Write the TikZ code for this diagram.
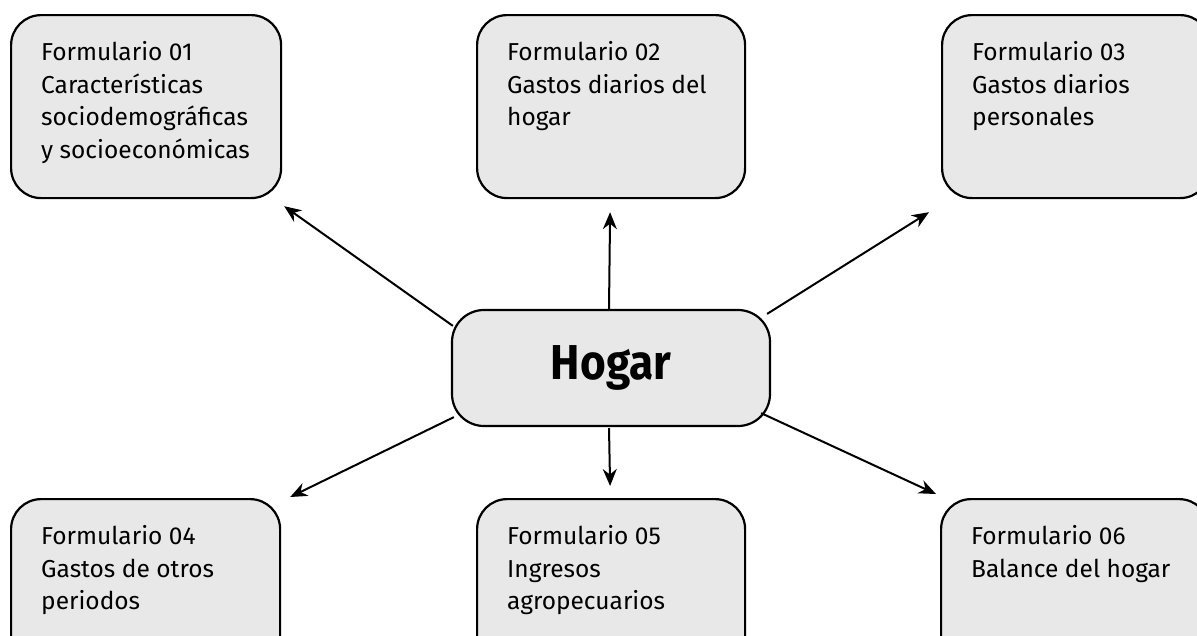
\documentclass[tikz,border=0pt]{standalone}
\usepackage{fontspec}
\setmainfont{Fira Sans}
\newfontfamily\hogarfont[FakeStretch=0.9]{Fira Sans}
\usetikzlibrary{calc,arrows.meta}
\tikzset{
  formbox/.style={draw=black, line width=2.2pt, fill=boxgray, rounded corners=30pt,
    minimum width=268pt, minimum height=183pt, inner sep=0pt, anchor=north west},
  hogarbox/.style={draw=black, line width=2.2pt, fill=boxgray, rounded corners=32pt,
    minimum width=318pt, minimum height=116pt, inner sep=0pt},
  formtext/.style={anchor=north west, inner sep=0pt, align=left,
    font=\fontsize{24.5}{32.7}\selectfont},
  conn/.style={line width=2pt, -{Stealth[length=17pt,width=14pt]}}
}
\definecolor{boxgray}{HTML}{E8E8E8}
\begin{document}
\begin{tikzpicture}[x=1pt,y=-1pt]
\useasboundingbox (0,0) rectangle (1197,635);
\clip (0,0) rectangle (1197,635);
\node[formbox, minimum width=270pt] (b1) at (10,14) {};
\node[formbox] (b2) at (476,14) {};
\node[formbox] (b3) at (941,14) {};
\node[formbox, minimum width=269pt] (b4) at (10,498) {};
\node[formbox] (b5) at (476,498) {};
\node[formbox] (b6) at (940,498) {};
\node[formtext] (t1) at ($(b1.north west)+(31,27)$) {Formulario 01\\Características\\sociodemográficas\\y socioeconómicas};
\node[formtext] (t2) at ($(b2.north west)+(31,27)$) {Formulario 02\\Gastos diarios del\\hogar};
\node[formtext] (t3) at ($(b3.north west)+(31,27)$) {Formulario 03\\Gastos diarios\\personales};
\node[formtext] (t4) at ($(b4.north west)+(31,27)$) {Formulario 04\\Gastos de otros\\periodos};
\node[formtext] (t5) at ($(b5.north west)+(31,27)$) {Formulario 05\\Ingresos\\agropecuarios};
\node[formtext] (t6) at ($(b6.north west)+(31,27)$) {Formulario 06\\Balance del hogar};
\node[hogarbox, font=\hogarfont\fontsize{49}{56}\selectfont\bfseries] (h) at (611,368) {Hogar};
\draw[conn] ($(h.north west)+(2,17)$) -- ($(b1.south east)+(2,7)$);
\draw[conn] ($(h.north)+(-2,0)$) -- ($(b2.south)+(-1,13)$);
\draw[conn] ($(h.north east)+(-4,5)$) -- ($(b3.south west)+(-12,13)$);
\draw[conn] ($(h.south west)+(3,-10)$) -- ($(b4.north east)+(9,-1)$);
\draw[conn] ($(h.south)+(-2,1)$) -- ($(b5.north)+(-1,-12)$);
\draw[conn] ($(h.south east)+(-10,-14)$) -- ($(b6.north west)+(-4,-4)$);
\end{tikzpicture}
\end{document}
